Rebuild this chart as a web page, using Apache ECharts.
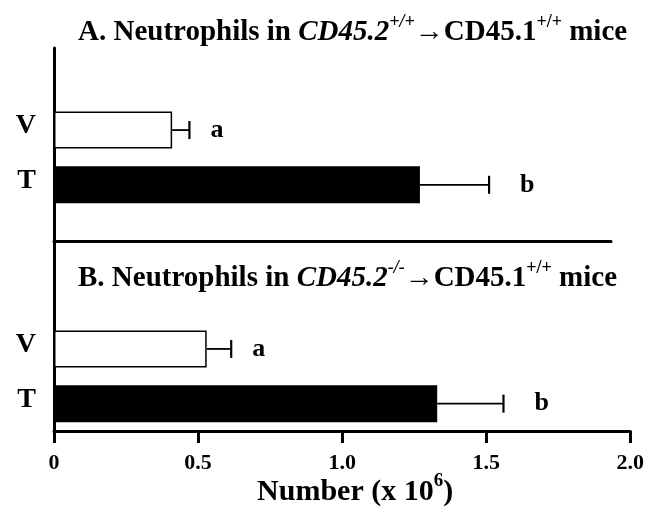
<!DOCTYPE html>
<html><head><meta charset="utf-8">
<script src="https://cdn.jsdelivr.net/npm/echarts@6/dist/echarts.min.js"></script>
<style>html,body{margin:0;padding:0;background:#fff}#c{width:647px;height:529px}</style>
</head><body><div id="c"></div>
<script>
// ---- Data (category slots listed bottom to top: panel B, spacer, panel A, spacer) ----
const categories = ['T', 'V', '', '', 'T', 'V', ''];
const means      = [1.33, 0.53, null, null, 1.27, 0.41, null];
const uppers     = [1.56, 0.615, null, null, 1.51, 0.47, null];
const letters    = ['b', 'a', '', '', 'b', 'a', ''];
const xTickLabels = ['0', '0.5', '1.0', '1.5', '2.0'];
const titleA = ['A. Neutrophils in ', 'CD45.2', '+/+', '\u2192CD45.1', '+/+', ' mice'];
const titleB = ['B. Neutrophils in ', 'CD45.2', '-/-', '\u2192CD45.1', '+/+', ' mice'];
const axisName = ['Number (x 10', '6', ')'];

// ---- Styles ----
const serif = '"Liberation Serif", "Times New Roman", serif';
const titleRich = {
  n: {fontFamily: serif, fontWeight: 'bold', fontSize: 29, color: '#000', padding: [5, 0, 0, 0]},
  i: {fontFamily: serif, fontWeight: 'bold', fontStyle: 'italic', fontSize: 29, color: '#000', padding: [5, 0, 0, 0]},
  s: {fontFamily: serif, fontWeight: 'bold', fontSize: 18, color: '#000', verticalAlign: 'top'},
  si: {fontFamily: serif, fontWeight: 'bold', fontStyle: 'italic', fontSize: 18, color: '#000', verticalAlign: 'top'}
};
function titleText(p) {
  return '{n|' + p[0] + '}{i|' + p[1] + '}{si|' + p[2] + '}{n|' + p[3] + '}{s|' + p[4] + '}{n|' + p[5] + '}';
}
const letterGap = {a: 21, b: 31};

const barData = means.map((v, i) => v == null ? '-' : {
  value: v,
  itemStyle: categories[i] === 'T'
    ? {color: '#000'}
    : {color: '#fff', borderColor: '#000', borderWidth: 1.5}
});
const errIdx = [];
means.forEach((v, i) => { if (v != null) errIdx.push(i); });
const errData = errIdx.map(i => [means[i], uppers[i], i]);

const chart = echarts.init(document.getElementById('c'), null, {renderer: 'canvas'});
chart.setOption({
  animation: false,
  backgroundColor: '#fff',
  title: [
    {left: 73, top: 8, text: titleText(titleA), textStyle: {rich: titleRich}},
    {left: 73, top: 254, text: titleText(titleB), textStyle: {rich: titleRich}}
  ],
  grid: [
    {left: 54, right: 16, top: 48, bottom: 98},
    {left: 54, right: 36, top: 48, height: 193}
  ],
  xAxis: [
    {
      gridIndex: 0, type: 'value', min: 0, max: 2, interval: 0.5,
      axisLine: {show: true, lineStyle: {color: '#000', width: 3}},
      axisTick: {show: true, length: 12, lineStyle: {color: '#000', width: 3}},
      axisLabel: {
        margin: 21, color: '#000', fontFamily: serif, fontWeight: 'bold', fontSize: 22,
        formatter: v => xTickLabels[Math.round(v / 0.5)]
      },
      splitLine: {show: false},
      name: '{n|' + axisName[0] + '}{s|' + axisName[1] + '}{n|' + axisName[2] + '}',
      nameLocation: 'middle', nameGap: 41, nameMoveOverlap: false,
      nameTextStyle: {padding: [0, 0, 0, 26], rich: {
        n: {fontFamily: serif, fontWeight: 'bold', fontSize: 30, color: '#000', padding: [5, 0, 0, 0]},
        s: {fontFamily: serif, fontWeight: 'bold', fontSize: 19, color: '#000', verticalAlign: 'top'}
      }}
    },
    {
      gridIndex: 1, type: 'value', min: 0, max: 1,
      axisLine: {show: true, onZero: false, lineStyle: {color: '#000', width: 3}},
      axisTick: {show: false}, axisLabel: {show: false}, splitLine: {show: false}
    }
  ],
  yAxis: [
    {
      gridIndex: 0, type: 'category', data: categories,
      axisLine: {show: true, lineStyle: {color: '#000', width: 3}},
      axisTick: {show: false},
      axisLabel: {
        margin: 18,
        formatter: v => v ? '{l|' + v + '}' : '',
        rich: {l: {color: '#000', fontFamily: serif, fontWeight: 'bold', fontSize: 28, padding: [0, 0, 8, 0]}}
      }
    },
    {gridIndex: 1, type: 'value', show: false, min: 0, max: 1}
  ],
  series: [
    {type: 'bar', xAxisIndex: 0, yAxisIndex: 0, barWidth: 37, data: barData, silent: true},
    {
      type: 'custom', xAxisIndex: 0, yAxisIndex: 0, silent: true,
      encode: {x: [0, 1], y: 2},
      data: errData,
      renderItem: function (params, api) {
        const i = errIdx[params.dataIndex];
        const p0 = api.coord([api.value(0), api.value(2)]);
        const p1 = api.coord([api.value(1), api.value(2)]);
        const letter = letters[i];
        return {
          type: 'group',
          children: [
            {type: 'line', shape: {x1: p0[0], y1: p0[1], x2: p1[0], y2: p1[1]}, style: {stroke: '#000', lineWidth: 1.8}},
            {type: 'line', shape: {x1: p1[0], y1: p1[1] - 9, x2: p1[0], y2: p1[1] + 9}, style: {stroke: '#000', lineWidth: 2.2}},
            {type: 'text', style: {
              text: letter, x: p1[0] + letterGap[letter], y: p1[1],
              fill: '#000', fontFamily: serif, fontWeight: 'bold', fontSize: 26,
              align: 'left', verticalAlign: 'middle'
            }}
          ]
        };
      }
    }
  ]
});
</script>
</body></html>
